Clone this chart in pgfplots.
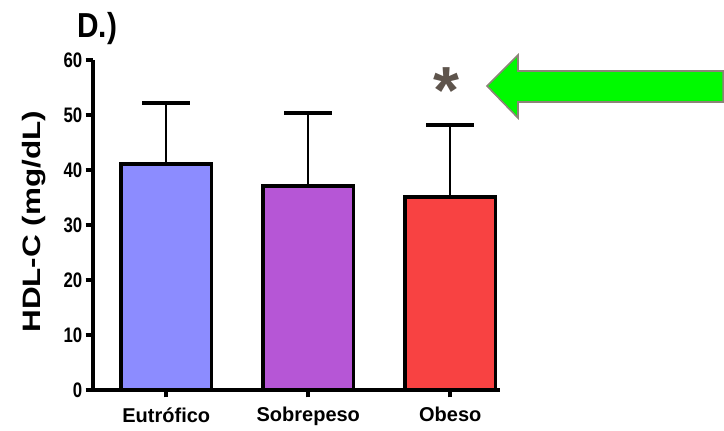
\documentclass[border=0pt]{standalone}
\usepackage{pgfplots}
\pgfplotsset{compat=1.18}
\usepackage{fontspec}
\setmainfont{Liberation Sans}
\newfontfamily\nf{Liberation Sans}[FakeStretch=0.8]
\newfontfamily\tf{Liberation Sans}[FakeStretch=0.86]
\definecolor{cEu}{RGB}{140,140,255}
\definecolor{cSo}{RGB}{182,86,214}
\definecolor{cOb}{RGB}{248,66,66}
\definecolor{cStar}{RGB}{94,84,76}
\definecolor{cArrow}{RGB}{0,250,0}
\definecolor{cArrowB}{RGB}{140,132,120}
\begin{document}
\begin{tikzpicture}[x=0.75pt,y=0.75pt]
\path (0,0) rectangle (724,428);
\begin{axis}[
  at={(69.75pt,28.5pt)}, anchor=south west,
  scale only axis, width=305.25pt, height=247.5pt,
  xmin=-0.516, xmax=2.35, ymin=0, ymax=60,
  axis x line=bottom, axis y line=left,
  axis line style={line width=3pt, -},
  xtick={0,1,2}, xticklabels={Eutrófico,Sobrepeso,Obeso},
  ytick={0,10,...,60},
  tick align=outside, major tick length=5.5pt,
  tick style={line width=3pt, black},
  /pgf/number format/assume math mode=true,
  yticklabel style={font=\nf\fontsize{15.75}{16}\bfseries\selectfont, xshift=1pt},
  xticklabel style={font=\fontsize{15}{16}\bfseries\selectfont, yshift=-4pt},
  ylabel={\scalebox{1}[0.8]{HDL-C (mg/dL)}},
  ylabel style={at={(axis description cs:-0.145,0.51)}, anchor=center, font=\fontsize{23.6}{24}\bfseries\selectfont},
  ybar, bar width=68pt,
  clip=false,
  every axis plot/.append style={draw=black, line width=2.7pt, bar shift=0pt},
  error bars/y dir=plus, error bars/y explicit,
  error bars/error bar style={line width=1.5pt, black},
  error bars/error mark options={rotate=90, line width=3pt, mark size=18pt, black},
]
\addplot[fill=cEu, draw=black] coordinates {(0,41.1) +- (0,11.1)};
\addplot[fill=cSo, draw=black] coordinates {(1,37.1) +- (0,13.3)};
\addplot[fill=cOb, draw=black] coordinates {(2,35.1) +- (0,13.1)};
\node[text=cStar, font=\fontsize{50}{50}\bfseries\selectfont, inner sep=0pt, anchor=base] at (axis cs:1.97,50.2) {*};
\end{axis}
\node[anchor=base west, font=\tf\fontsize{26}{26}\bfseries\selectfont, inner sep=0pt] at (77,390) {D.)};
\filldraw[fill=cArrow, draw=cArrowB, line width=1.2pt]
  (487,342) -- (518,373) -- (518,357) -- (723.2,357) -- (723.2,326) -- (518,326) -- (518,310) -- cycle;
\end{tikzpicture}
\end{document}
